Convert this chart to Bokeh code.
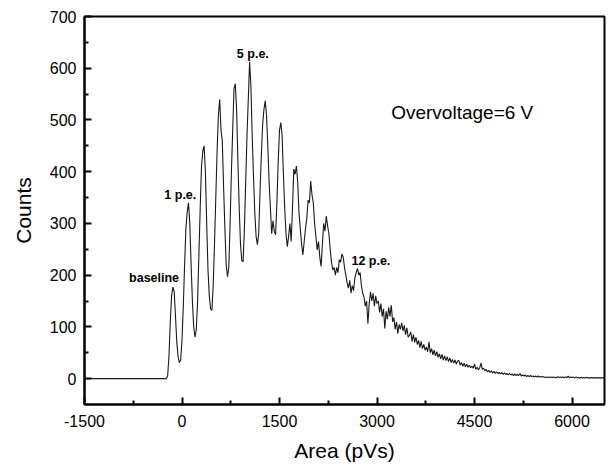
import numpy as np
from bokeh.plotting import figure
from bokeh.models import Range1d, FixedTicker, Label
from bokeh.embed import file_html
from bokeh.resources import INLINE

# ---- data ----
FLAT_START = -1500          # flat zero region begins at the left edge
BIN_START = -240            # first histogram bin centre (pVs)
BIN_WIDTH = 20              # bin width (pVs)
counts = [
    0, 6, 45, 110, 160, 177, 168, 120, 70, 42, 31, 36,            # -240 .. -20
    75, 140, 220, 290, 322, 340, 300, 220, 150, 100,             # 0 .. 180
    80, 95, 150, 240, 330, 410, 440, 450, 400, 300,              # 200 .. 380
    210, 160, 135, 132, 180, 260, 350, 440, 510, 540,            # 400 .. 580
    480, 460, 370, 290, 220, 197, 215, 300, 400, 480,            # 600 .. 780
    560, 570, 520, 420, 330, 260, 228, 226, 290, 380,            # 800 .. 980
    470, 540, 612, 565, 470, 390, 320, 275, 259, 280,            # 1000 .. 1180
    360, 430, 490, 520, 537, 510, 450, 380, 330, 280,            # 1200 .. 1380
    305, 285, 278, 340, 420, 480, 495, 470, 395, 330,            # 1400 .. 1580
    280, 255, 275, 300, 265, 330, 405, 395, 411, 380,            # 1600 .. 1780
    320, 290, 260, 239, 265, 290, 310, 345, 340, 382,            # 1800 .. 1980
    355, 340, 300, 275, 249, 265, 235, 217, 260, 300,            # 2000 .. 2180
    285, 314, 295, 280, 250, 225, 210, 215, 200, 215,            # 2200 .. 2380
    205, 230, 225, 241, 235, 215, 200, 185, 175, 190,            # 2400 .. 2580
    165, 180, 170, 195, 205, 213, 200, 205, 180, 165,            # 2600 .. 2780
    158, 140, 150, 106, 145, 168, 150, 165, 140, 160,            # 2800 .. 2980
    145, 150, 128, 145, 120, 135, 97, 130, 115, 138,             # 3000 .. 3180
    120, 142, 110, 118, 95, 110, 87, 105, 95, 108,               # 3200 .. 3380
    92, 103, 85, 98, 80, 84, 90, 72, 85, 70,                     # 3400 .. 3580
    80, 66, 74, 60, 72, 58, 66, 55, 61, 52,                      # 3600 .. 3780
    71, 50, 58, 46, 55, 44, 52, 41, 48, 38,                      # 3800 .. 3980
    47, 36, 44, 35, 42, 33, 40, 31, 37, 30,                      # 4000 .. 4180
    36, 28, 34, 35, 26, 31, 24, 30, 23, 28,                      # 4200 .. 4380
    22, 26, 21, 24, 20, 28, 18, 22, 17, 21,                      # 4400 .. 4580
    30, 18, 20, 15, 18, 13, 16, 12, 15, 11,                      # 4600 .. 4780
    14, 10, 13, 10, 12, 9, 12, 8, 11, 8,                         # 4800 .. 4980
    10, 7, 10, 7, 9, 6, 9, 6, 8, 6,                              # 5000 .. 5180
    10, 5, 7, 5, 7, 4, 6, 4, 6, 4,                               # 5200 .. 5380
    5, 3, 5, 3, 5, 3, 4, 3, 4, 2,                                # 5400 .. 5580
    3, 2, 3, 2, 3, 2, 3, 2, 2, 4,                                # 5600 .. 5780
    2, 3, 2, 3, 2, 3, 2, 5, 2, 3,                                # 5800 .. 5980
    2, 3, 1, 3, 2, 2, 1, 3, 1, 2,                                # 6000 .. 6180
    1, 3, 1, 2, 1, 2, 1, 2, 1, 2,                                # 6200 .. 6380
    1, 2, 1, 2, 1, 2, 1, 1,                                      # 6400 .. 6540
]

x_ticks = [-1500, 0, 1500, 3000, 4500, 6000]
x_minor = [-750, 750, 2250, 3750, 5250]
y_ticks = [0, 100, 200, 300, 400, 500, 600, 700]
y_minor = [50, 150, 250, 350, 450, 550, 650]

peak_labels = ["baseline", "1 p.e.", "5 p.e.", "12 p.e."]
peak_label_x = [-430, -26, 1090, 2906]
peak_label_y = [194, 355, 628, 228]

note_text = "Overvoltage=6 V"
note_x, note_y = 4311, 514

x_label = "Area (pVs)"
y_label = "Counts"

FONT = "Liberation Sans"

# ---- build ----
xs = [FLAT_START] + [BIN_START + BIN_WIDTH * i for i in range(len(counts))]
ys = [0] + counts

p = figure(width=608, height=469, output_backend="svg", toolbar_location=None,
           x_range=Range1d(-1500, 6500), y_range=Range1d(-50, 700),
           min_border_left=84, min_border_right=4, min_border_top=16,
           min_border_bottom=65)
p.grid.visible = False
p.background_fill_color = "white"
p.border_fill_color = "white"
p.outline_line_color = "black"
p.outline_line_width = 2

p.line(xs, ys, line_color="#1a1a1a", line_width=1.1)

for ax, maj, mnr in ((p.xaxis[0], x_ticks, x_minor), (p.yaxis[0], y_ticks, y_minor)):
    ax.ticker = FixedTicker(ticks=maj, minor_ticks=mnr)
    ax.axis_line_width = 2
    ax.axis_line_color = "black"
    ax.major_tick_in = 7
    ax.major_tick_out = 0
    ax.minor_tick_in = 4
    ax.minor_tick_out = 0
    ax.major_tick_line_width = 2
    ax.minor_tick_line_width = 2
    ax.major_label_text_font = FONT
    ax.major_label_text_font_size = "16px"
    ax.major_label_text_color = "black"
    ax.axis_label_text_font = FONT
    ax.axis_label_text_font_size = "21px"
    ax.axis_label_text_font_style = "normal"
    ax.axis_label_text_color = "black"

p.xaxis.major_label_overrides = {t: str(t) for t in x_ticks}
p.xaxis.major_label_standoff = 10
p.yaxis.major_label_standoff = 8
p.xaxis.axis_label = x_label
p.xaxis.axis_label_standoff = 9
p.yaxis.axis_label = y_label
p.yaxis.axis_label_standoff = 12

for t, lx, ly in zip(peak_labels, peak_label_x, peak_label_y):
    p.add_layout(Label(x=lx, y=ly, text=t, text_font=FONT, text_font_size="12.5px",
                       text_font_style="bold", text_color="black",
                       text_align="center", text_baseline="middle"))

p.add_layout(Label(x=note_x, y=note_y, text=note_text, text_font=FONT,
                   text_font_size="19px", text_color="black",
                   text_align="center", text_baseline="middle"))

open("out.html", "w").write(file_html(p, INLINE))
